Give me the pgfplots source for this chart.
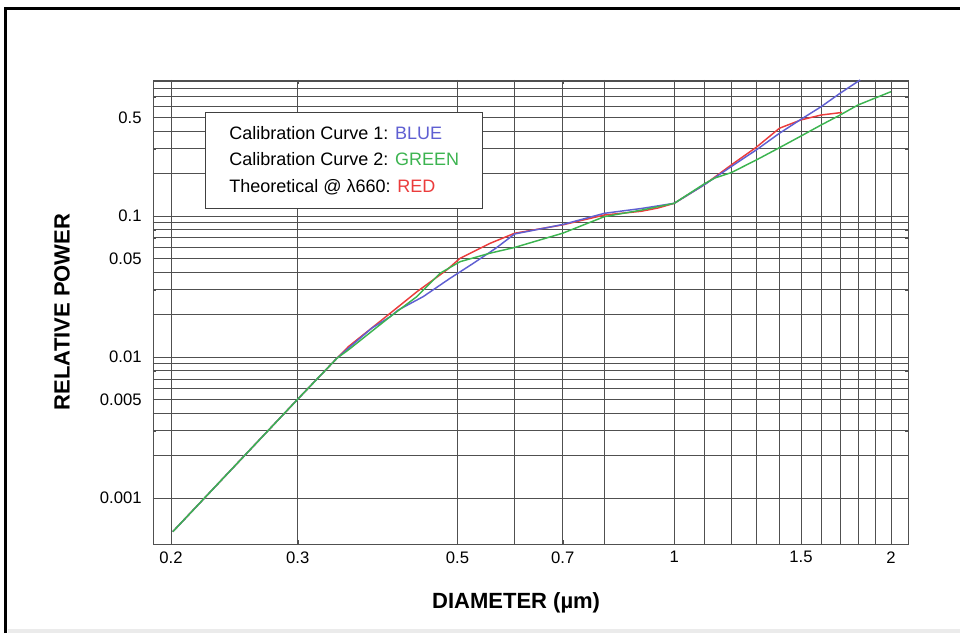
\documentclass[border=0pt]{standalone}
\usepackage{fontspec}
\setmainfont{Liberation Sans}
\usepackage{pgfplots}
\pgfplotsset{compat=1.18}

\definecolor{curveblue}{RGB}{95,95,210}
\definecolor{curvegreen}{RGB}{60,180,80}
\definecolor{curvered}{RGB}{235,60,60}
\definecolor{gridc}{RGB}{80,80,80}

\begin{document}
\begin{tikzpicture}
  \path[use as bounding box] (0,0) rectangle (720pt,474.75pt);
  \fill[black!8] (6pt,0) rectangle (720pt,3pt);
  \draw[line width=2.2pt] (4.2pt,0) -- (4.2pt,468.4pt) -- (720pt,468.4pt);
  \begin{axis}[
      at={(114.75pt,66.75pt)}, anchor=south west,
      scale only axis, width=566.25pt, height=348pt,
      xmode=log, ymode=log,
      xmin=0.1888, xmax=2.112, ymin=0.000472, ymax=0.921,
      xtick={0.2,0.3,0.5,0.7,1,1.5,2},
      xticklabels={0.2,0.3,0.5,0.7,1,1.5,2},
      minor xtick={0.6,0.8,1.1,1.2,1.3,1.4,1.6,1.7,1.8,1.9},
      ytick={0.001,0.005,0.01,0.05,0.1,0.5},
      yticklabels={0.001,0.005,0.01,0.05,0.1,0.5},
      minor ytick={0.002,0.003,0.004,0.006,0.007,0.008,0.009,
                   0.02,0.03,0.04,0.06,0.07,0.08,0.09,
                   0.2,0.3,0.4,0.6,0.7,0.8,0.9},
      grid=both,
      major grid style={gridc, line width=0.55pt},
      minor grid style={gridc, line width=0.5pt},
      axis line style={gridc, line width=0.7pt},
      tick style={gridc},
      tick align=inside, major tick length=3pt, minor tick length=2pt,
      ticklabel style={font=\fontsize{12.5}{14}\selectfont},
      yticklabel style={xshift=-5pt},
      xticklabel style={yshift=-2pt},
      xlabel={DIAMETER (µm)}, ylabel={RELATIVE POWER},
      label style={font=\fontsize{16.5}{18}\selectfont\bfseries},
      xlabel style={at={(axis description cs:0.481,-0.1272)}, anchor=center},
      ylabel style={at={(axis description cs:-0.1205,0.5)}, anchor=center},
    ]
    % theoretical
    \addplot[curvered, line width=1.1pt] coordinates {
      (0.2011,0.000577) (0.300,0.00503) (0.340,0.0098) (0.3526,0.01183)
      (0.403,0.0204) (0.439,0.0290) (0.483,0.0414) (0.504,0.0501)
      (0.555,0.064) (0.6,0.0754) (0.7,0.0865) (0.8,0.1016) (0.9,0.108)
      (0.95,0.114) (1.0,0.123) (1.1,0.166) (1.2,0.230) (1.3,0.307)
      (1.4,0.419) (1.5,0.480) (1.6,0.520) (1.71,0.542)
    };
    % calibration curve 1
    \addplot[curveblue, line width=1.1pt] coordinates {
      (0.2011,0.000577) (0.300,0.00503) (0.340,0.0098) (0.3526,0.01153)
      (0.380,0.0160) (0.403,0.0193) (0.4134,0.0215) (0.448,0.0268)
      (0.488,0.0361) (0.526,0.0462) (0.565,0.0590) (0.6,0.0745)
      (0.7,0.0870) (0.8,0.1045) (0.9,0.113) (1.0,0.123) (1.1,0.166)
      (1.2,0.224) (1.3,0.294) (1.4,0.386) (1.5,0.485) (1.6,0.596)
      (1.7,0.742) (1.812,0.921)
    };
    % calibration curve 2
    \addplot[curvegreen, line width=1.1pt] coordinates {
      (0.2011,0.000577) (0.300,0.00503) (0.340,0.0098) (0.3526,0.01122)
      (0.403,0.0193) (0.439,0.0268) (0.473,0.0393) (0.504,0.0474)
      (0.555,0.0545) (0.6,0.0598) (0.7,0.0755) (0.8,0.0990) (0.9,0.110)
      (1.0,0.123) (1.1,0.1686) (1.139,0.186) (1.2,0.203) (1.3,0.2495)
      (1.4,0.305) (1.5,0.369) (1.6,0.442) (1.7,0.520) (1.8,0.6125)
      (2.0,0.761)
    };
    \node[draw=black!75, line width=0.9pt, fill=white, anchor=north west,
          align=left, inner xsep=16pt, minimum width=207.75pt,
          minimum height=72pt, font=\fontsize{13.5}{20}\selectfont]
      at (rel axis cs:0.069,0.931)
      {Calibration Curve 1: \textcolor{curveblue}{BLUE}\\
       Calibration Curve 2: \textcolor{curvegreen}{GREEN}\\
       Theoretical @ λ660: \textcolor{curvered}{RED}};
  \end{axis}
\end{tikzpicture}
\end{document}
